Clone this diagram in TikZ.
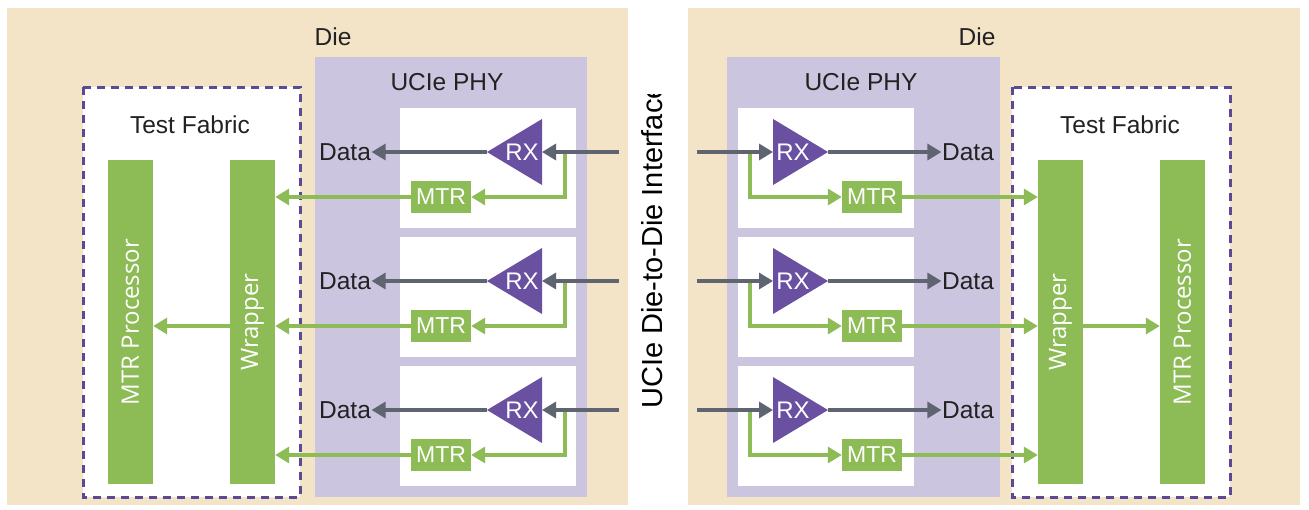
\documentclass[tikz,border=0pt]{standalone}
\usepackage{fontspec}
\setmainfont{Liberation Sans}
\newfontfamily\barfont{Open Sans}
\usetikzlibrary{arrows.meta}
\definecolor{beige}{HTML}{F3E4C8}
\definecolor{lav}{HTML}{CCC5E0}
\definecolor{rxpurple}{HTML}{6A50A0}
\definecolor{mgreen}{HTML}{8DBB55}
\definecolor{agray}{HTML}{5E6570}
\definecolor{dashp}{HTML}{5A4A96}
\definecolor{txt}{HTML}{222222}
\begin{document}
\begin{tikzpicture}[x=1pt,y=-1pt,
 lbl/.style={font=\fontsize{24.5}{28}\selectfont, text=txt, inner sep=0.5pt},
 rxtxt/.style={font=\fontsize{24}{26}\selectfont, text=white, inner sep=0},
 mtr/.style={fill=mgreen, text=white, font=\fontsize{23}{24}\selectfont,
   minimum width=60pt, minimum height=32pt, inner sep=0},
 barbox/.style={fill=mgreen, minimum width=45pt, minimum height=324pt, inner sep=0},
 bartxt/.style={font=\barfont\fontsize{24}{26}\selectfont, text=white, rotate=90, inner sep=0},
 gline/.style={draw=agray, line width=3.2pt, -{Triangle[length=14pt,width=16pt]}},
 grline/.style={draw=mgreen, line width=3.2pt, -{Triangle[length=14pt,width=16pt]}},
 fabframe/.style={draw=dashp, line width=3pt, dash pattern=on 8pt off 6pt, fill=white},
]
\useasboundingbox (0,0) rectangle (1309,509);
\fill[white] (0,0) rectangle (1309,509);

% ---------- backgrounds ----------
\fill[beige] (7,8) rectangle (628,505);
\fill[beige] (688,8) rectangle (1300,505);
\fill[lav] (315,57) rectangle (587,497);
\fill[lav] (727,57) rectangle (1000,497);
\draw[fabframe] (83,87) rectangle (300,497);
\draw[fabframe] (1012,87) rectangle (1230,497);

\node[lbl] (dieL) at (333,37) {Die};
\node[lbl] (dieR) at (977,37) {Die};
\node[lbl] (phyL) at (447,82) {UCIe PHY};
\node[lbl] (phyR) at (861,82) {UCIe PHY};
\node[lbl] (tfL) at (190,125) {Test Fabric};
\node[lbl] (tfR) at (1120,125) {Test Fabric};

% ---------- bars ----------
\node[barbox] (procL) at (130.5,322) {};
\node[barbox] (wrapL) at (252.5,322) {};
\node[barbox] (wrapR) at (1060.5,322) {};
\node[barbox] (procR) at (1182.5,322) {};
\node[bartxt] (procLt) at (procL.center) {MTR Processor};
\node[bartxt] (wrapLt) at (wrapL.center) {Wrapper};
\node[bartxt] (wrapRt) at (wrapR.center) {Wrapper};
\node[bartxt] (procRt) at (procR.center) {MTR Processor};

% ---------- rows ----------
\foreach \i/\y in {1/152,2/281,3/410}{
  \fill[white] (400,\y-44) rectangle (576,\y+76);
  \fill[white] (738,\y-44) rectangle (914,\y+76);
  % left
  \coordinate (rxLa\i) at (487,\y);
  \coordinate (rxLb\i) at (542,\y);
  \fill[rxpurple] (rxLa\i) -- (542,\y-33) -- (542,\y+33) -- cycle;
  \node[rxtxt] (rxL\i) at (522,\y) {RX};
  \node[mtr] (mtrL\i) at (441,\y+45) {MTR};
  \node[lbl] (dataL\i) at (345,\y) {Data};
  \coordinate (inL\i) at (619,\y);
  \coordinate (brL\i) at (565,\y);
  \draw[grline] (brL\i) -- (brL\i |- mtrL\i) -- (mtrL\i.east);
  \draw[grline] (mtrL\i.west) -- (mtrL\i.west -| wrapL.east);
  \draw[gline] (inL\i) -- (rxLb\i);
  \draw[gline] (rxLa\i) -- (dataL\i.east);
  % right
  \coordinate (rxRb\i) at (773,\y);
  \coordinate (rxRa\i) at (828,\y);
  \fill[rxpurple] (rxRa\i) -- (773,\y-33) -- (773,\y+33) -- cycle;
  \node[rxtxt] (rxR\i) at (793,\y) {RX};
  \node[mtr] (mtrR\i) at (872,\y+45) {MTR};
  \node[lbl] (dataR\i) at (968,\y) {Data};
  \coordinate (inR\i) at (697,\y);
  \coordinate (brR\i) at (750,\y);
  \draw[grline] (brR\i) -- (brR\i |- mtrR\i) -- (mtrR\i.west);
  \draw[grline] (mtrR\i.east) -- (mtrR\i.east -| wrapR.west);
  \draw[gline] (inR\i) -- (rxRb\i);
  \draw[gline] (rxRa\i) -- (dataR\i.west);
}
\draw[grline] (mtrL2.west -| wrapL.west) -- (mtrL2.west -| procL.east);
\draw[grline] (mtrR2.east -| wrapR.east) -- (mtrR2.east -| procR.west);

% ---------- interface label ----------
\begin{scope}
\clip (630,94) rectangle (686,440);
\node[font=\fontsize{29}{32}\selectfont, text=black, rotate=90, anchor=west, inner sep=0] (iface) at (652,409) {UCIe Die-to-Die Interface};
\end{scope}
\end{tikzpicture}
\end{document}
